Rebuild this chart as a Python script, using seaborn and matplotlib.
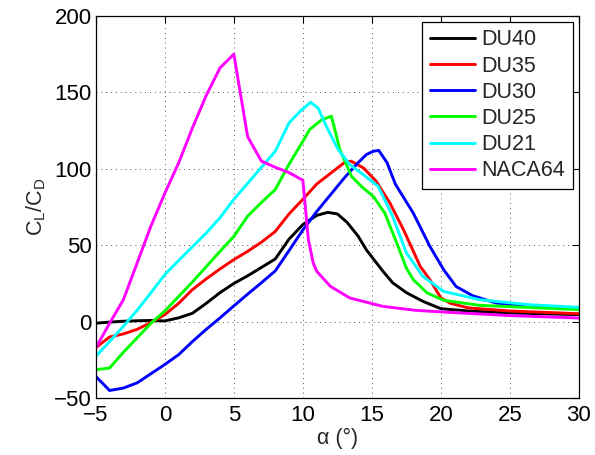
import numpy as np
import pandas as pd
import seaborn as sns
import matplotlib.pyplot as plt

# angle of attack (deg) and lift/drag ratio, per airfoil
du40_alpha = [-5, -4, -3, -2, -1, 0, 1, 2, 3, 4, 5, 6, 7, 8, 9, 10, 11, 11.8, 12.5, 13.2,
              14, 14.6, 15.2, 15.8, 16.5, 17.5, 18.7, 20, 22, 25, 30]
du40_ld = [-1, -0.3, 0.3, 0.6, 0.8, 0.5, 2.5, 5.5, 12, 19, 25, 30, 35.5, 41, 54, 63.5, 69.5,
           71.5, 70.5, 65, 56, 47, 40, 33, 25.5, 19, 13.3, 8.5, 7, 5.7, 4.6]

du35_alpha = [-5, -4, -3, -2, -1, 0, 1, 2, 3, 4, 5, 6, 7, 8, 9, 10, 11, 12, 13, 13.5, 14.4,
              15.3, 16.3, 17.3, 18.5, 19.2, 20, 20.7, 22, 25, 30]
du35_ld = [-17, -10, -8, -5, -0.5, 4.6, 12, 21, 28, 34.5, 40.6, 46, 52, 59, 70.5, 80, 90, 97,
           104, 105, 100.5, 92, 77.7, 60, 36.2, 27.5, 15.5, 12, 9, 7, 5.2]

du30_alpha = [-5, -4, -3, -2, -1, 0, 1, 2, 3, 4, 5, 6, 7, 8, 9, 10, 11, 12, 13, 14, 14.6, 15.1,
              15.5, 16.1, 16.7, 18, 19.2, 20.2, 21.1, 22.3, 24, 26.4, 30]
du30_ld = [-35.8, -45, -43.4, -40, -34, -28, -21.6, -13, -5, 2.5, 10.3, 18, 25.5, 33.2, 46.5,
           60, 72, 83, 94, 104, 109.3, 111.5, 112, 104, 90, 71, 49.3, 34, 23, 17, 12.2, 10, 9]

du25_alpha = [-5, -4, -3, -2, -1, 0, 1, 2, 3, 4, 5, 6, 7, 8, 9, 10, 10.5, 11.35, 12.07, 12.68,
              13.53, 14.3, 15.1, 15.94, 16.8, 17.5, 18, 19, 20.2, 22.8, 30]
du25_ld = [-31.4, -30.3, -20, -10.5, -1, 7, 16.5, 26, 36, 46, 55.8, 69, 78, 86.4, 103, 118,
           125.7, 132, 134.4, 112.6, 95, 88, 82, 71, 51.5, 35, 27.5, 18.8, 14, 10.7, 7.9]

du21_alpha = [-5, -4, -3, -2, -1, 0, 1, 2, 3, 4, 5, 6, 7, 8, 9, 9.8, 10.56, 11.1, 11.8, 12.56,
              13.4, 14.4, 15.46, 16.5, 17.5, 18.7, 20.2, 22.8, 26.4, 30]
du21_ld = [-22.7, -13, -3, 7.5, 19, 30.8, 40, 49, 58, 68, 80, 90.5, 101, 111.5, 130, 137.6,
           143.5, 139.8, 126, 112.6, 102.7, 96, 88.5, 69, 45, 29.6, 19.8, 14.4, 11.1, 9.4]

naca64_alpha = [-5, -4, -3, -2, -1, 0, 1, 2, 3, 4, 5, 6, 7, 8, 9, 10, 10.4, 10.75, 11, 12, 13.4,
                15.8, 18.2, 20.6, 25, 30]
naca64_ld = [-17.2, -1, 14.4, 38.5, 62.7, 84, 103.8, 126.7, 148, 166, 175, 121, 105, 101, 97.5,
             92.5, 53.7, 38.4, 33, 23.1, 15.5, 10, 7.4, 6.1, 4, 2.4]

names = ["DU40", "DU35", "DU30", "DU25", "DU21", "NACA64"]
colors = ["#000000", "#FF0000", "#0000FF", "#00FF00", "#00FFFF", "#FF00FF"]

series = [(du40_alpha, du40_ld), (du35_alpha, du35_ld), (du30_alpha, du30_ld),
          (du25_alpha, du25_ld), (du21_alpha, du21_ld), (naca64_alpha, naca64_ld)]
df = pd.concat([pd.DataFrame({"alpha": a, "ld": v, "airfoil": n})
                for n, (a, v) in zip(names, series)], ignore_index=True)

sns.set_style("white")
plt.rcParams['font.family'] = ['Liberation Sans', 'DejaVu Sans']
plt.rcParams['mathtext.fontset'] = 'custom'
plt.rcParams['mathtext.rm'] = 'Liberation Sans'

fig = plt.figure(figsize=(5.95, 4.55), dpi=100)
ax = fig.add_axes([0.161, 0.125, 0.812, 0.840])

sns.lineplot(data=df, x="alpha", y="ld", hue="airfoil", hue_order=names,
             palette=colors, estimator=None, sort=False, linewidth=2.1, ax=ax)

ax.set_xlim(-5, 30)
ax.set_ylim(-50, 200)
ax.set_xticks(np.arange(-5, 31, 5))
ax.set_yticks(np.arange(-50, 201, 50))
ax.grid(True, linestyle=(0, (1, 4)), color='#555555', linewidth=0.7)
ax.tick_params(direction='in', top=True, right=True, length=5, width=0.8,
               labelsize=16, colors='black')
ax.tick_params(axis='x', pad=5)
ax.tick_params(axis='y', pad=3)
for s in ax.spines.values():
    s.set_color('black')
    s.set_linewidth(0.9)

ax.set_xlabel('α (°)', fontsize=15.5, labelpad=1)
ax.set_ylabel(r'C$_\mathregular{L}$/C$_\mathregular{D}$', fontsize=15.5, labelpad=4)

leg = ax.legend(loc='upper right', fontsize=15.5, frameon=True, fancybox=False,
                edgecolor='black', handlelength=2.1, borderaxespad=0.28,
                labelspacing=0.24, borderpad=0.35, handletextpad=0.3)
leg.get_frame().set_linewidth(0.9)
leg.get_frame().set_alpha(1)

fig.savefig("out.png", dpi=100)
